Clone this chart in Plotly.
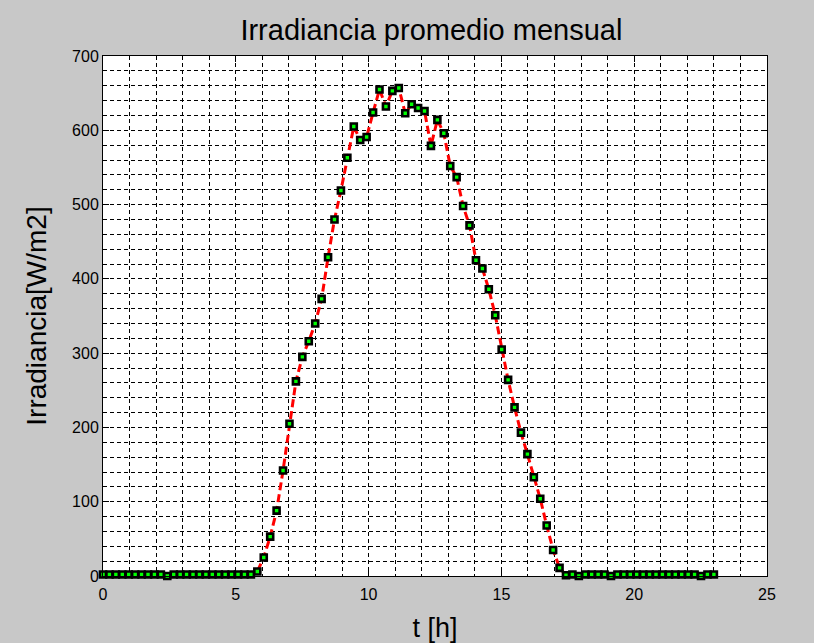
import numpy as np
import plotly.graph_objects as go

# time axis: 96 samples spread over 0..23 h
t_start, t_end, n_samples = 0, 23, 96
hours = np.linspace(t_start, t_end, n_samples)

night_am = [2, 2, 2, 2, 2, 2, 2, 2, 2, 2, 0, 2, 2, 2, 2, 2, 2, 2, 2, 2, 2, 2, 2, 2]
day = [6, 25, 53, 88, 142, 205, 262, 295, 316, 340, 373, 429, 480, 519, 563, 605,
       587, 591, 624, 655, 632, 653, 657, 623, 635, 630, 626, 579, 614, 596, 552,
       537, 498, 472, 425, 414, 386, 351, 305, 264, 227, 193, 164, 133, 104, 68,
       35, 11, 1]
night_pm = [2, 0, 2, 2, 2, 2, 0, 2, 2, 2, 2, 2, 2, 2, 2, 2, 2, 2, 2, 2, 0, 2, 2]
irradiance = night_am + day + night_pm

title_text = "Irradiancia promedio mensual"
x_title = "t [h]"
y_title = "Irradiancia[W/m2]"

font = "Liberation Sans, Arial, sans-serif"

fig = go.Figure()
fig.add_trace(go.Scatter(
    x=hours, y=irradiance, mode="lines+markers",
    line=dict(color="#ff0000", width=3, dash="8px,4px"),
    marker=dict(symbol="square", size=6, color="#00ff00",
                line=dict(color="black", width=2.6)),
    cliponaxis=False, showlegend=False,
))

grid_common = dict(
    showgrid=True, gridcolor="black", gridwidth=1, griddash="4px,3px",
    showline=True, linecolor="black", linewidth=1, mirror="ticks",
    ticks="inside", ticklen=6, tickcolor="black", zeroline=False,
    tickfont=dict(family=font, size=16, color="black"),
)

fig.update_xaxes(range=[0, 25], tick0=0, dtick=5,
                 minor=dict(dtick=1, showgrid=True, gridcolor="black",
                            griddash="4px,3px", gridwidth=1),
                 ticklabelstandoff=4,
                 title=dict(text=x_title, font=dict(family=font, size=27, color="black"),
                            standoff=16),
                 **grid_common)
fig.update_yaxes(range=[0, 700], tick0=0, dtick=100,
                 minor=dict(dtick=20, showgrid=True, gridcolor="black",
                            griddash="4px,3px", gridwidth=1),
                 title=dict(text=y_title, font=dict(family=font, size=28, color="black"),
                            standoff=17),
                 **grid_common)

fig.update_layout(
    width=814, height=643,
    paper_bgcolor="#c8c8c8", plot_bgcolor="white",
    margin=dict(l=103, r=47, t=56, b=67, autoexpand=False),
    title=dict(text=title_text, x=0.53, xanchor="center", y=0.953, yanchor="middle",
               yref="container", font=dict(family=font, size=29, color="black")),
)

fig.write_html(
    "out.html",
    config={"displayModeBar": False},
    post_script="document.body.style.margin='0';document.body.style.overflow='hidden';",
)
